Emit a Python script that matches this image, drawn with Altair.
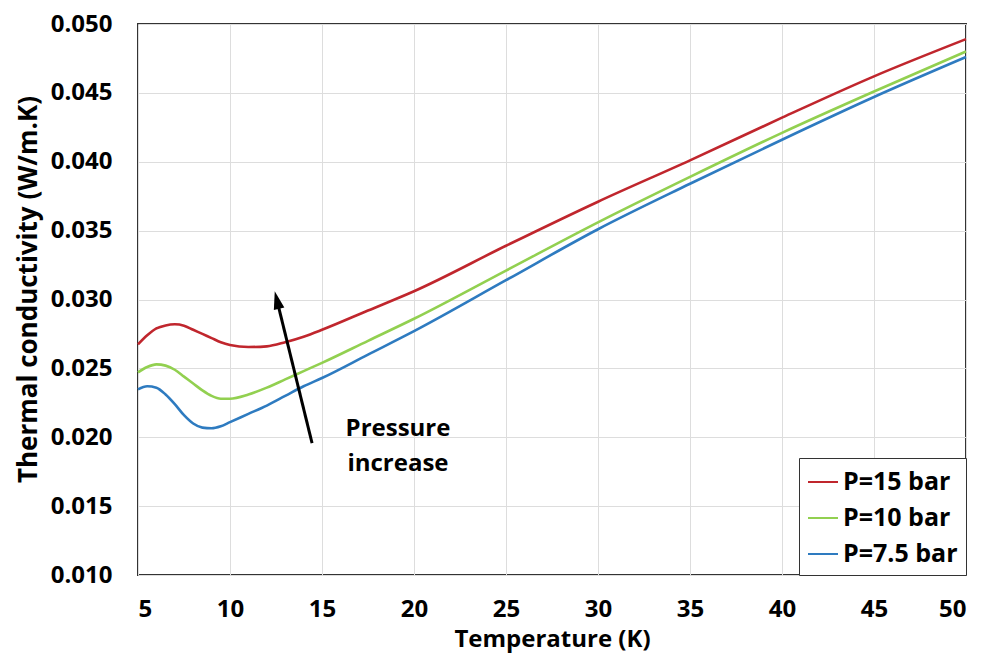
import altair as alt
import pandas as pd

temps = [5, 5.5, 6, 6.5, 7, 7.5, 8, 8.5, 9, 9.5, 10, 11, 12, 13, 14, 15, 17.5, 20, 25, 30, 35, 40, 45, 50]
k_15 = [0.02674, 0.0274, 0.0279, 0.02812, 0.0282, 0.0281, 0.0278, 0.0275, 0.0272, 0.0269, 0.0267, 0.02655,
        0.0266, 0.0269, 0.0273, 0.0278, 0.0292, 0.0306, 0.0339, 0.0371, 0.0401, 0.0432, 0.0462, 0.0489]
k_10 = [0.02471, 0.0251, 0.02529, 0.0252, 0.0249, 0.0244, 0.0239, 0.0234, 0.0230, 0.0228, 0.0228, 0.0231,
        0.0236, 0.0242, 0.0248, 0.0254, 0.0270, 0.0286, 0.0321, 0.0356, 0.0389, 0.0421, 0.0451, 0.0480]
k_75 = [0.02348, 0.0237, 0.0236, 0.0231, 0.0224, 0.0216, 0.0210, 0.0207, 0.02065, 0.0208, 0.0211, 0.0217,
        0.0223, 0.0230, 0.0237, 0.0243, 0.0260, 0.0277, 0.0314, 0.0351, 0.0384, 0.0416, 0.0447, 0.0476]
series_names = ["P=15 bar", "P=10 bar", "P=7.5 bar"]
series_colors = ["#C0262D", "#92D050", "#2E7BC0"]

rows = []
for name, vals in zip(series_names, [k_15, k_10, k_75]):
    for t, v in zip(temps, vals):
        rows.append({"T": t, "k": v, "series": name})
df = pd.DataFrame(rows)

# annotation arrow (tail -> head base) and head centre
arrow_T = [14.46, 12.65]
arrow_k = [0.01957, 0.02941]
head_T = [12.55]
head_k = [0.02996]
note_T = [19.13, 19.13]
note_k = [0.02058, 0.01804]
note_text = ["Pressure", "increase"]

FONT = "Open Sans"

x_enc = alt.X("T:Q", scale=alt.Scale(domain=[5, 50], nice=False),
              axis=alt.Axis(values=list(range(5, 51, 5)), title="Temperature (K)"))
y_enc = alt.Y("k:Q", scale=alt.Scale(domain=[0.010, 0.050], nice=False),
              axis=alt.Axis(values=[0.010 + 0.005 * i for i in range(9)], format=".3f",
                            title="Thermal conductivity (W/m.K)", titleFontSize=26, titleY=265))

lines = alt.Chart(df).mark_line(strokeWidth=2.6, interpolate="monotone").encode(
    x=x_enc, y=y_enc,
    color=alt.Color("series:N", scale=alt.Scale(domain=series_names, range=series_colors),
                    legend=alt.Legend(title=None, orient="bottom-right", offset=0,
                                      symbolType="stroke", symbolSize=900, symbolStrokeWidth=2,
                                      labelFontSize=25, labelFontWeight="bold", labelFont=FONT,
                                      labelColor="#000", rowPadding=7, padding=8,
                                      strokeColor="#333", fillColor="white", labelOffset=4)),
    order="T:Q",
)

arrow_df = pd.DataFrame({"T": arrow_T, "k": arrow_k})
arrow = alt.Chart(arrow_df).mark_line(color="black", strokeWidth=3).encode(x="T:Q", y="k:Q")

head_df = pd.DataFrame({"T": head_T, "k": head_k})
head = alt.Chart(head_df).mark_point(shape="M0,-1L0.6,1L-0.6,1Z", filled=True, color="black",
                                     opacity=1, size=324, angle=346).encode(x="T:Q", y="k:Q")

note_df = pd.DataFrame({"T": note_T, "k": note_k, "text": note_text})
note = alt.Chart(note_df).mark_text(font=FONT, fontSize=24, fontWeight="bold", color="black",
                                    align="center", baseline="middle").encode(
    x="T:Q", y="k:Q", text="text:N")

chart = alt.layer(lines, arrow, head, note).properties(
    width=828, height=551,
    autosize=alt.AutoSizeParams(type="none"),
    padding={"left": 130, "top": 16, "right": 12, "bottom": 81},
).configure_view(stroke="#333", strokeWidth=2).configure_axis(
    grid=True, gridColor="#DDDDDD", gridWidth=1, ticks=False, domain=False,
    labelFont=FONT, labelFontSize=24, labelFontWeight="bold", labelColor="#000",
    titleFont=FONT, titleFontSize=24, titleFontWeight="bold", titleColor="#000",
).configure_axisX(labelPadding=22, titlePadding=6).configure_axisY(labelPadding=26, titlePadding=9)

chart.save("out.html", embed_options={"renderer": "svg", "actions": False})
